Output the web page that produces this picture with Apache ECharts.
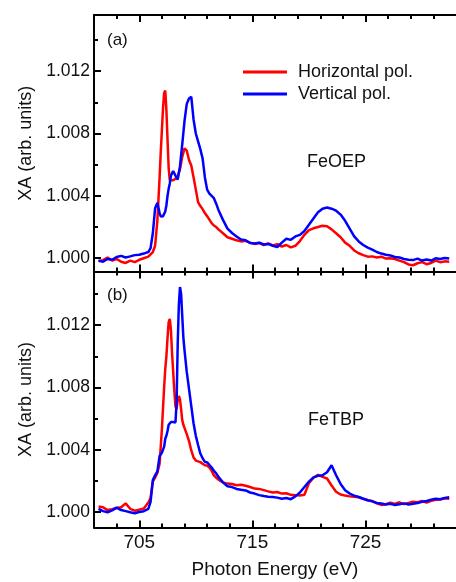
<!DOCTYPE html>
<html>
<head>
<meta charset="utf-8">
<script src="https://cdn.jsdelivr.net/npm/echarts@6/dist/echarts.min.js"></script>
<style>
  html, body { margin: 0; padding: 0; background: #fff; }
  #chart { width: 456px; height: 582px; }
</style>
</head>
<body>
<div id="chart"></div>
<script>
// photon energy grids (eV)
const energyA = [
  701.4, 701.8, 702.2, 702.6, 703.0, 703.4, 703.8, 704.2, 704.6, 705.0, 705.4, 705.8,
  706.0, 706.2, 706.4, 706.6, 706.8, 706.9, 707.0, 707.1, 707.2, 707.3, 707.4, 707.5, 707.6, 707.7, 707.8,
  708.0, 708.2, 708.4, 708.6, 708.8, 709.0, 709.2, 709.4, 709.6, 709.8, 710.0, 710.2, 710.4, 710.6, 710.8,
  711.0, 711.2, 711.4, 711.6, 711.8, 712.0,
  712.4, 712.8, 713.2, 713.6, 714.0, 714.4, 714.8, 715.2, 715.6, 716.0, 716.4, 716.8, 717.2, 717.6, 718.0,
  718.4, 718.8, 719.2, 719.6, 720.0, 720.4, 720.8, 721.2, 721.6, 722.0, 722.4, 722.8, 723.2, 723.6, 724.0,
  724.4, 724.8, 725.2, 725.6, 726.0, 726.4, 726.8, 727.2, 727.6, 728.0, 728.4, 728.8, 729.2, 729.6, 730.0,
  730.4, 730.8, 731.2, 731.6, 732.0, 732.4
];
const energyB = [
  701.4, 701.8, 702.2, 702.6, 703.0, 703.4, 703.8, 704.2, 704.6, 705.0, 705.4, 705.8,
  706.0, 706.2, 706.4, 706.6, 706.8, 707.0, 707.2, 707.3, 707.4, 707.5, 707.6, 707.7, 707.8, 707.9, 708.0,
  708.1, 708.2, 708.3, 708.4, 708.5, 708.6, 708.7, 708.8, 708.9, 709.0, 709.2, 709.4, 709.6, 709.8, 710.0,
  710.2, 710.4, 710.6, 710.8, 711.0, 711.2, 711.4, 711.6, 711.8, 712.0,
  712.4, 712.8, 713.2, 713.6, 714.0, 714.4, 714.8, 715.2, 715.6, 716.0, 716.4, 716.8, 717.2, 717.6, 718.0,
  718.4, 718.8, 719.2, 719.6, 720.0, 720.4, 720.8, 721.2, 721.6, 722.0, 722.4, 722.8, 723.2, 723.6, 724.0,
  724.4, 724.8, 725.2, 725.6, 726.0, 726.4, 726.8, 727.2, 727.6, 728.0, 728.4, 728.8, 729.2, 729.6, 730.0,
  730.4, 730.8, 731.2, 731.6, 732.0, 732.4
];

// (a) FeOEP
const horizA = [
  0.99980, 0.99988, 1.00005, 0.99985, 0.99995, 0.99978, 0.99970, 0.99985, 0.99975, 0.99990, 1.00000, 1.00010,
  1.00025, 1.00040, 1.00080, 1.00240, 1.00520, 1.00680, 1.00820, 1.00960, 1.01060, 1.01075, 1.00950, 1.00760,
  1.00580, 1.00500, 1.00495, 1.00500, 1.00510, 1.00525, 1.00570, 1.00650, 1.00705, 1.00690, 1.00630, 1.00595,
  1.00520, 1.00440, 1.00360, 1.00335, 1.00315, 1.00290, 1.00270, 1.00248, 1.00225, 1.00210, 1.00200, 1.00185,
  1.00160, 1.00135, 1.00125, 1.00115, 1.00108, 1.00112, 1.00100, 1.00092, 1.00098, 1.00085, 1.00095, 1.00082,
  1.00090, 1.00075, 1.00085, 1.00070, 1.00080, 1.00110, 1.00150, 1.00180, 1.00192, 1.00200, 1.00208, 1.00205,
  1.00185, 1.00160, 1.00135, 1.00100, 1.00080, 1.00050, 1.00032, 1.00020, 1.00010, 1.00012, 1.00005, 1.00010,
  0.99998, 1.00000, 0.99995, 0.99985, 0.99975, 0.99960, 0.99955, 0.99968, 0.99975, 0.99962, 0.99970, 0.99985,
  0.99975, 0.99980, 0.99978
];
const vertA = [
  0.99985, 0.99978, 0.99995, 0.99990, 1.00008, 1.00015, 1.00005, 1.00012, 1.00020, 1.00022, 1.00030, 1.00040,
  1.00065, 1.00160, 1.00320, 1.00355, 1.00290, 1.00268, 1.00262, 1.00270, 1.00282, 1.00300, 1.00340, 1.00400,
  1.00445, 1.00480, 1.00530, 1.00560, 1.00530, 1.00505, 1.00590, 1.00730, 1.00880, 1.00990, 1.01025, 1.01035,
  1.00890, 1.00800, 1.00750, 1.00700, 1.00640, 1.00520, 1.00440, 1.00415, 1.00400, 1.00385, 1.00350, 1.00310,
  1.00246, 1.00190, 1.00162, 1.00140, 1.00120, 1.00115, 1.00098, 1.00095, 1.00100, 1.00088, 1.00092, 1.00080,
  1.00072, 1.00100, 1.00125, 1.00118, 1.00140, 1.00150, 1.00175, 1.00215, 1.00255, 1.00295, 1.00318, 1.00325,
  1.00318, 1.00305, 1.00280, 1.00240, 1.00190, 1.00140, 1.00108, 1.00085, 1.00068, 1.00055, 1.00040, 1.00030,
  1.00022, 1.00018, 1.00008, 1.00005, 0.99995, 0.99990, 0.99988, 0.99998, 0.99985, 0.99992, 0.99985, 1.00000,
  0.99995, 1.00002, 0.99998
];

// (b) FeTBP
const horizB = [
  1.00035, 1.00030, 1.00012, 1.00018, 1.00025, 1.00030, 1.00055, 1.00020, 1.00008, 1.00015, 1.00022, 1.00060,
  1.00090, 1.00195, 1.00220, 1.00250, 1.00310, 1.00530, 1.00800, 1.00920, 1.01000, 1.01120, 1.01220, 1.01240,
  1.01170, 1.01020, 1.00900, 1.00780, 1.00680, 1.00660, 1.00720, 1.00745, 1.00725, 1.00660, 1.00590, 1.00560,
  1.00540, 1.00500, 1.00455, 1.00395, 1.00350, 1.00330, 1.00325, 1.00320, 1.00310, 1.00300, 1.00298, 1.00285,
  1.00265, 1.00235, 1.00220, 1.00208,
  1.00190, 1.00182, 1.00180, 1.00172, 1.00175, 1.00168, 1.00160, 1.00150, 1.00148, 1.00140, 1.00132, 1.00125,
  1.00128, 1.00118, 1.00120, 1.00110, 1.00108, 1.00105, 1.00110, 1.00185, 1.00220, 1.00238, 1.00225, 1.00215,
  1.00170, 1.00130, 1.00112, 1.00105, 1.00100, 1.00098, 1.00094, 1.00085, 1.00075, 1.00070, 1.00055, 1.00045,
  1.00050, 1.00060, 1.00052, 1.00062, 1.00050, 1.00058, 1.00065, 1.00062, 1.00070, 1.00060, 1.00072, 1.00078,
  1.00080, 1.00088, 1.00085
];
const vertB = [
  1.00020, 1.00005, 0.99998, 1.00010, 1.00028, 1.00012, 1.00005, 0.99998, 0.99992, 1.00000, 1.00005, 1.00020,
  1.00065, 1.00205, 1.00235, 1.00260, 1.00360, 1.00380, 1.00420, 1.00470, 1.00490, 1.00520, 1.00560, 1.00572,
  1.00578, 1.00580, 1.00578, 1.00570, 1.00575, 1.00700, 1.01080, 1.01330, 1.01445, 1.01400, 1.01260, 1.01120,
  1.01040, 1.00900, 1.00790, 1.00680, 1.00570, 1.00490, 1.00430, 1.00375, 1.00345, 1.00322, 1.00318, 1.00302,
  1.00285, 1.00265, 1.00248, 1.00225,
  1.00190, 1.00165, 1.00160, 1.00148, 1.00142, 1.00138, 1.00125, 1.00118, 1.00108, 1.00102, 1.00098, 1.00096,
  1.00092, 1.00085, 1.00090, 1.00082, 1.00100, 1.00125, 1.00160, 1.00195, 1.00222, 1.00232, 1.00236, 1.00255,
  1.00300, 1.00236, 1.00180, 1.00140, 1.00118, 1.00105, 1.00096, 1.00085, 1.00075, 1.00068, 1.00058, 1.00054,
  1.00048, 1.00052, 1.00045, 1.00050, 1.00055, 1.00048, 1.00052, 1.00058, 1.00065, 1.00070, 1.00078, 1.00085,
  1.00082, 1.00090, 1.00095
];

// ticks
const xMajor = [705, 715, 725];
const xMinor = [703, 707, 709, 711, 713, 717, 719, 721, 723, 727, 729, 731];
const yMajor = [1.000, 1.004, 1.008, 1.012];
const yMinor = [1.002, 1.006, 1.010, 1.014];

const FONT = "'Liberation Sans', Arial, sans-serif";
const RED = "#ff0000";
const BLUE = "#0000ff";

const pair = (xs, ys) => xs.map((x, i) => [x, ys[i]]);

// one axis = frame line + one set of ticks; minor ticks go on a second, line-less axis
function xAx(grid, pos, ticks, len, opts) {
  return Object.assign({
    type: "value", gridIndex: grid, position: pos, min: 701, max: 733,
    axisLine: { show: len > 5, onZero: false, lineStyle: { color: "#000", width: 2 } },
    axisTick: { show: true, inside: true, length: len, customValues: ticks, lineStyle: { color: "#000", width: 2 } },
    axisLabel: { show: false },
    splitLine: { show: false }
  }, opts || {});
}
function yAx(grid, min, max, ticks, len, opts) {
  return Object.assign({
    type: "value", gridIndex: grid, position: "left", min: min, max: max,
    axisLine: { show: len > 5, onZero: false, lineStyle: { color: "#000", width: 2 } },
    axisTick: { show: true, inside: true, length: len, customValues: ticks, lineStyle: { color: "#000", width: 2 } },
    axisLabel: { show: false },
    splitLine: { show: false }
  }, opts || {});
}

const yName = {
  name: "XA (arb. units)", nameLocation: "middle", nameGap: 58,
  nameTextStyle: { fontFamily: FONT, fontSize: 18, color: "#111" },
  axisLabel: {
    show: true, customValues: yMajor, inside: false, margin: 4,
    fontFamily: FONT, fontSize: 17.5, color: "#111",
    formatter: v => v.toFixed(3)
  }
};

const chart = echarts.init(document.getElementById("chart"), null, { renderer: "canvas" });
chart.setOption({
  animation: false,
  backgroundColor: "#fff",
  grid: [
    { left: 94, top: 15, width: 372, height: 256.5 },
    { left: 94, top: 271.5, width: 372, height: 256 }
  ],
  xAxis: [
    xAx(0, "bottom", xMajor, 7),
    xAx(0, "bottom", xMinor, 4),
    xAx(0, "top", xMajor, 7),
    xAx(0, "top", xMinor, 4),
    xAx(1, "bottom", xMajor, 7, {
      name: "Photon Energy (eV)", nameLocation: "middle", nameGap: 33,
      nameTextStyle: { fontFamily: FONT, fontSize: 19, color: "#111" },
      axisLabel: { show: true, customValues: xMajor, margin: 6, fontFamily: FONT, fontSize: 19, color: "#111" }
    }),
    xAx(1, "bottom", xMinor, 4),
    xAx(1, "top", xMajor, 7),
    xAx(1, "top", xMinor, 4)
  ],
  yAxis: [
    yAx(0, 0.99915, 1.0156, yMajor, 7, yName),
    yAx(0, 0.99915, 1.0156, yMinor, 4),
    yAx(1, 0.999, 1.01545, yMajor, 7, yName),
    yAx(1, 0.999, 1.01545, yMinor, 4)
  ],
  legend: {
    data: ["Horizontal pol.", "Vertical pol."],
    orient: "vertical",
    left: 243, top: 62, padding: 0,
    icon: "rect",
    itemWidth: 44, itemHeight: 3, itemGap: 2,
    textStyle: { fontFamily: FONT, fontSize: 18, color: "#111", lineHeight: 20, padding: [0, 0, 0, 6] }
  },
  graphic: [
    { type: "text", left: 107, top: 32, style: { text: "(a)", font: "17px " + FONT, fill: "#111" } },
    { type: "text", left: 107, top: 287, style: { text: "(b)", font: "17px " + FONT, fill: "#111" } },
    { type: "text", left: 307, top: 153, style: { text: "FeOEP", font: "18px " + FONT, fill: "#111" } },
    { type: "text", left: 308, top: 411, style: { text: "FeTBP", font: "18px " + FONT, fill: "#111" } }
  ],
  series: [
    { name: "Horizontal pol.", type: "line", xAxisIndex: 0, yAxisIndex: 0, data: pair(energyA, horizA),
      symbol: "none", lineStyle: { color: RED, width: 2.5 }, itemStyle: { color: RED } },
    { name: "Vertical pol.", type: "line", xAxisIndex: 0, yAxisIndex: 0, data: pair(energyA, vertA),
      symbol: "none", lineStyle: { color: BLUE, width: 2.5 }, itemStyle: { color: BLUE } },
    { name: "Horizontal pol.", type: "line", xAxisIndex: 4, yAxisIndex: 2, data: pair(energyB, horizB),
      symbol: "none", lineStyle: { color: RED, width: 2.5 }, itemStyle: { color: RED } },
    { name: "Vertical pol.", type: "line", xAxisIndex: 4, yAxisIndex: 2, data: pair(energyB, vertB),
      symbol: "none", lineStyle: { color: BLUE, width: 2.5 }, itemStyle: { color: BLUE } }
  ]
});
</script>
</body>
</html>
